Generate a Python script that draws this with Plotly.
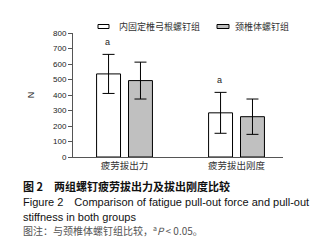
import plotly.graph_objects as go

categories = ["疲劳拔出力", "疲劳拔出刚度"]
group_names = ["内固定椎弓根螺钉组", "颈椎体螺钉组"]
means_a = [536, 285]
sd_a = [126, 132]
means_b = [493, 260]
sd_b = [119, 114]
y_ticks = [0, 100, 200, 300, 400, 500, 600, 700, 800]
sig_marks = ["a", "a"]

fig = go.Figure()
fig.add_bar(x=categories, y=means_a, name=group_names[0],
            marker=dict(color="white", line=dict(color="black", width=1)),
            error_y=dict(type="data", array=sd_a, color="black", thickness=1, width=6),
            showlegend=False)
fig.add_bar(x=categories, y=means_b, name=group_names[1],
            marker=dict(color="#c0c0c0", line=dict(color="black", width=1)),
            error_y=dict(type="data", array=sd_b, color="black", thickness=1, width=6),
            showlegend=False)

annotations = []
for c, m, s, t in zip(categories, means_a, sd_a, sig_marks):
    annotations.append(dict(x=c, y=m + s, xref="x", yref="y", text=t, showarrow=False,
                            xshift=-17, yshift=12, font=dict(size=9, color="#222")))

cjk = "Noto Sans CJK SC"
# custom legend
W, H = 326, 243
L, R, T, B = 65, 51, 25, 94
pw, ph = W - L - R, H - T - B
def px(x): return (x - L) / pw
def py(y): return (H - B - y) / ph

shapes = [
    dict(type="rect", xref="paper", yref="paper", x0=px(90), x1=px(101), y0=py(20.5), y1=py(16.5),
         line=dict(color="black", width=1), fillcolor="white"),
    dict(type="rect", xref="paper", yref="paper", x0=px(209), x1=px(221), y0=py(20.5), y1=py(16.5),
         line=dict(color="black", width=1), fillcolor="#c0c0c0"),
]
annotations += [
    dict(xref="paper", yref="paper", x=px(109), y=py(18.5), xanchor="left", yanchor="middle",
         text=group_names[0], showarrow=False, font=dict(family=cjk, size=9, color="#333")),
    dict(xref="paper", yref="paper", x=px(225), y=py(18.5), xanchor="left", yanchor="middle",
         text=group_names[1], showarrow=False, font=dict(family=cjk, size=9, color="#333")),
]

captions = [
    ("<b>图 2　两组螺钉疲劳拔出力及拔出刚度比较</b>", 178, "#111", cjk, 11),
    ("Figure 2　Comparison of fatigue pull-out force and pull-out", 194, "#111", "Liberation Sans", 11),
    ("stiffness in both groups", 208.5, "#111", "Liberation Sans", 11),
    ("图注：与颈椎体螺钉组比较，<sup>a</sup><i>P</i> &lt; 0.05。", 222.5, "#555", cjk, 10),
]
for text, y, col, fam, sz in captions:
    annotations.append(dict(xref="paper", yref="paper", x=px(13), y=py(y), xanchor="left",
                            yanchor="middle", text=text, showarrow=False,
                            font=dict(family=fam, size=sz, color=col)))

fig.update_layout(
    width=W, height=H, margin=dict(l=L, r=R, t=T, b=B),
    paper_bgcolor="white", plot_bgcolor="white",
    barmode="group", bargap=0.43, bargroupgap=0.25,
    font=dict(family="Liberation Sans", size=8, color="#222"),
    xaxis=dict(range=[-0.46, 1.415], showline=True, linecolor="#555", linewidth=1,
               ticks="", tickfont=dict(family=cjk, size=9.5, color="#333"), showgrid=False,
               zeroline=False),
    yaxis=dict(range=[0, 800], tickvals=y_ticks, showline=True, linecolor="#555", linewidth=1,
               ticks="outside", ticklen=4, tickcolor="#555", showgrid=False, zeroline=False,
               tickfont=dict(size=8, color="#222"),
               title=dict(text="N", font=dict(size=9, color="#222"), standoff=16)),
    shapes=shapes, annotations=annotations,
)
fig.write_html("out.html")
